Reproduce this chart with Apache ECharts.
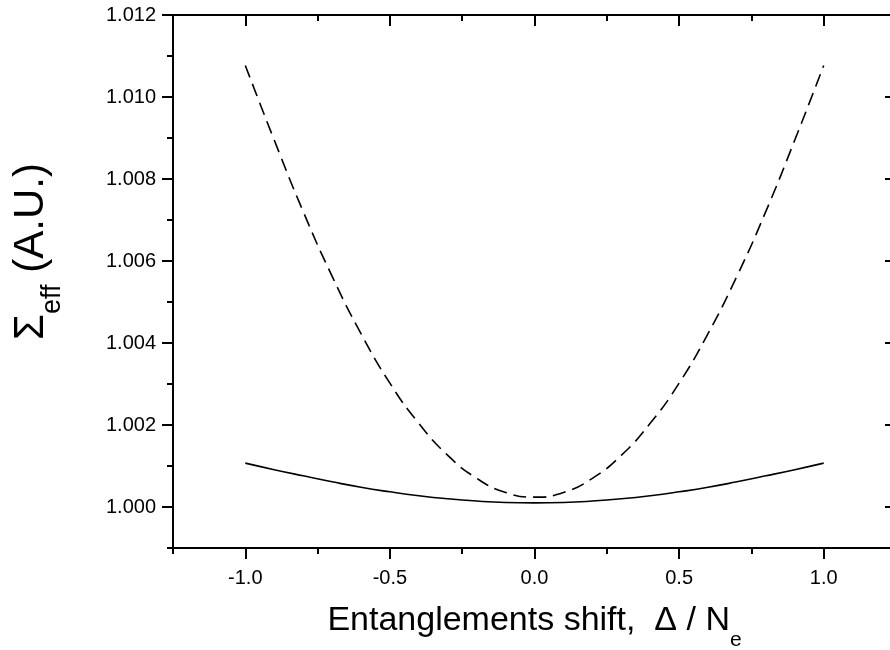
<!DOCTYPE html>
<html>
<head>
<meta charset="utf-8">
<script src="https://cdn.jsdelivr.net/npm/echarts@6/dist/echarts.min.js"></script>
<style>html,body{margin:0;padding:0;background:#fff}#c{width:890px;height:650px}</style>
</head>
<body>
<div id="c"></div>
<script>
// Data
var xs = [-1.0, -0.9, -0.8, -0.7, -0.6, -0.5, -0.4, -0.3, -0.2, -0.1, 0.0, 0.1, 0.2, 0.3, 0.4, 0.5, 0.6, 0.7, 0.8, 0.9, 1.0];
var dashedVals = [1.01077, 1.00895, 1.00721, 1.00563, 1.00423, 1.00302, 1.00204, 1.00126, 1.00070, 1.000355, 1.00024, 1.000355, 1.00070, 1.00126, 1.00204, 1.00302, 1.00423, 1.00563, 1.00721, 1.00895, 1.01077];
var solidVals = [1.00107, 1.00091, 1.00076, 1.000615, 1.00048, 1.00037, 1.000275, 1.00020, 1.000145, 1.00011, 1.00010, 1.00011, 1.000145, 1.00020, 1.000275, 1.00037, 1.00048, 1.000615, 1.00076, 1.00091, 1.00107];
var xMajorTicks = [-1.0, -0.5, 0.0, 0.5, 1.0];
var yMajorTicks = [1.000, 1.002, 1.004, 1.006, 1.008, 1.010, 1.012];
var xTitle = 'Entanglements shift,  Δ / N';
var xTitleSub = 'e';
var yTitleMain = 'Σ';
var yTitleSub = 'eff';
var yTitleRest = ' (A.U.)';

var FONT = "'Liberation Sans', Arial, sans-serif";
var X_MIN = -1.25, X_MAX = 1.25, Y_MIN = 0.999, Y_MAX = 1.012;
var lineStyle = {color: '#000', width: 2};

function pairs(ys) { return xs.map(function (x, i) { return [x, ys[i]]; }); }

var chart = echarts.init(document.getElementById('c'), null, {renderer: 'canvas'});
chart.setOption({
  backgroundColor: '#fff',
  animation: false,
  grid: {left: 173, top: 15, width: 723, height: 533, containLabel: false, outerBoundsMode: 'none'},
  xAxis: [
    { // bottom, major ticks + labels + title
      type: 'value', position: 'bottom', min: X_MIN, max: X_MAX,
      axisLine: {show: true, onZero: false, lineStyle: lineStyle},
      axisTick: {show: true, inside: false, length: 11, customValues: xMajorTicks, lineStyle: lineStyle},
      axisLabel: {show: true, customValues: xMajorTicks, margin: 20, fontFamily: FONT, fontSize: 20, color: '#000',
        formatter: function (v) { return v.toFixed(1); }},
      splitLine: {show: false},
      name: '{a|' + xTitle + '}{s|' + xTitleSub + '}',
      nameLocation: 'middle', nameGap: 56,
      nameTextStyle: {
        rich: {
          a: {fontFamily: FONT, fontSize: 34, lineHeight: 34, color: '#000', verticalAlign: 'top'},
          s: {fontFamily: FONT, fontSize: 21, lineHeight: 21, color: '#000', verticalAlign: 'top', padding: [26, 0, 0, 0]}
        }
      }
    },
    { // bottom minor ticks
      type: 'value', position: 'bottom', min: X_MIN, max: X_MAX, interval: 0.25,
      axisLine: {show: false, onZero: false},
      axisTick: {show: true, inside: false, length: 6, lineStyle: lineStyle},
      axisLabel: {show: false}, splitLine: {show: false}
    },
    { // top major
      type: 'value', position: 'top', min: X_MIN, max: X_MAX,
      axisLine: {show: true, onZero: false, lineStyle: lineStyle},
      axisTick: {show: true, inside: true, length: 11, customValues: xMajorTicks, lineStyle: lineStyle},
      axisLabel: {show: false}, splitLine: {show: false}
    },
    { // top minor
      type: 'value', position: 'top', min: X_MIN, max: X_MAX, interval: 0.25,
      axisLine: {show: false, onZero: false},
      axisTick: {show: true, inside: true, length: 6, lineStyle: lineStyle},
      axisLabel: {show: false}, splitLine: {show: false}
    }
  ],
  yAxis: [
    { // left major + labels + title
      type: 'value', position: 'left', min: Y_MIN, max: Y_MAX,
      axisLine: {show: true, onZero: false, lineStyle: lineStyle},
      axisTick: {show: true, inside: false, length: 11, customValues: yMajorTicks, lineStyle: lineStyle},
      axisLabel: {show: true, customValues: yMajorTicks, margin: 17, fontFamily: FONT, fontSize: 20, color: '#000',
        formatter: function (v) { return v.toFixed(3); }},
      splitLine: {show: false},
      name: '{a|' + yTitleMain + '}{s|' + yTitleSub + '}{a|' + yTitleRest + '}',
      nameLocation: 'middle', nameRotate: 90, nameGap: 121,
      nameTextStyle: {
        padding: [0, 0, 0, 60],
        rich: {
          a: {fontFamily: FONT, fontSize: 42, lineHeight: 42, color: '#000', verticalAlign: 'top'},
          s: {fontFamily: FONT, fontSize: 27, lineHeight: 27, color: '#000', verticalAlign: 'top', padding: [29, 0, 0, 0]}
        }
      }
    },
    { // left minor
      type: 'value', position: 'left', min: Y_MIN, max: Y_MAX, interval: 0.001,
      axisLine: {show: false, onZero: false},
      axisTick: {show: true, inside: false, length: 6, lineStyle: lineStyle},
      axisLabel: {show: false}, splitLine: {show: false}
    },
    { // right major
      type: 'value', position: 'right', min: Y_MIN, max: Y_MAX,
      axisLine: {show: true, onZero: false, lineStyle: lineStyle},
      axisTick: {show: true, inside: true, length: 11, customValues: yMajorTicks, lineStyle: lineStyle},
      axisLabel: {show: false}, splitLine: {show: false}
    },
    { // right minor
      type: 'value', position: 'right', min: Y_MIN, max: Y_MAX, interval: 0.001,
      axisLine: {show: false, onZero: false},
      axisTick: {show: true, inside: true, length: 6, lineStyle: lineStyle},
      axisLabel: {show: false}, splitLine: {show: false}
    }
  ],
  series: [
    {
      type: 'line', name: 'dashed', xAxisIndex: 0, yAxisIndex: 0,
      data: pairs(dashedVals), smooth: true, showSymbol: false, symbol: 'none',
      lineStyle: {color: '#000', width: 1.6, type: [13, 7]}
    },
    {
      type: 'line', name: 'solid', xAxisIndex: 0, yAxisIndex: 0,
      data: pairs(solidVals), smooth: true, showSymbol: false, symbol: 'none',
      lineStyle: {color: '#000', width: 1.6, type: 'solid'}
    }
  ]
});
</script>
</body>
</html>
